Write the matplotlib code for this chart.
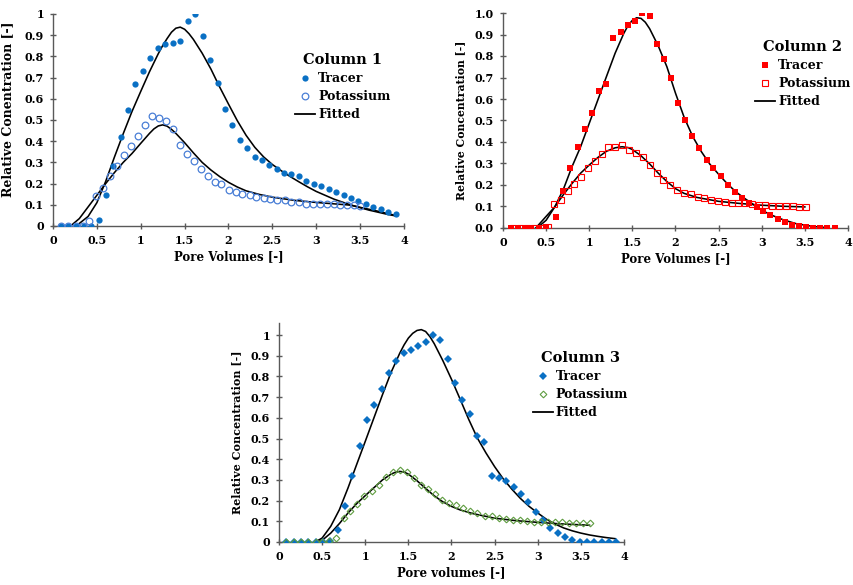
import matplotlib
matplotlib.use("Agg")
from matplotlib import pyplot as plt
from matplotlib.lines import Line2D

plt.rcParams["font.family"] = ["DejaVu Serif"]
plt.rcParams["font.weight"] = "bold"

# ---- Column 1 ----
c1_tracer_x = [0.087, 0.171, 0.258, 0.349, 0.437, 0.520, 0.604, 0.684, 0.771, 0.855,
               0.938, 1.026, 1.105, 1.193, 1.280, 1.364, 1.451, 1.535, 1.622, 1.706,
               1.789, 1.877, 1.960, 2.044, 2.127, 2.211, 2.298, 2.382, 2.465, 2.549,
               2.632, 2.716, 2.803, 2.887, 2.971, 3.058, 3.142, 3.225, 3.312, 3.396,
               3.480, 3.567, 3.651, 3.738, 3.821, 3.905]
c1_tracer_y = [0, 0, 0, 0, 0, 0.027, 0.145, 0.284, 0.418, 0.547,
               0.67, 0.733, 0.793, 0.841, 0.86, 0.863, 0.875, 0.968, 1.0, 0.894,
               0.781, 0.673, 0.554, 0.476, 0.404, 0.367, 0.326, 0.311, 0.289, 0.271,
               0.252, 0.243, 0.237, 0.213, 0.2, 0.189, 0.175, 0.159, 0.147, 0.132,
               0.12, 0.106, 0.091, 0.079, 0.068, 0.058]
c1_k_x = [0.087, 0.171, 0.258, 0.342, 0.406, 0.494, 0.574, 0.646, 0.730, 0.813,
          0.893, 0.965, 1.045, 1.128, 1.208, 1.288, 1.368, 1.444, 1.527, 1.607,
          1.690, 1.766, 1.842, 1.918, 2.006, 2.080, 2.157, 2.240, 2.317, 2.400,
          2.477, 2.553, 2.640, 2.716, 2.800, 2.880, 2.963, 3.040, 3.120, 3.199,
          3.275, 3.350, 3.427, 3.503]
c1_k_y = [0, 0, 0, 0, 0.024, 0.14, 0.181, 0.237, 0.284, 0.334,
          0.379, 0.424, 0.475, 0.519, 0.508, 0.495, 0.457, 0.383, 0.339, 0.308,
          0.271, 0.235, 0.208, 0.196, 0.169, 0.161, 0.153, 0.144, 0.137, 0.132,
          0.128, 0.125, 0.121, 0.115, 0.114, 0.106, 0.106, 0.104, 0.106, 0.103,
          0.101, 0.099, 0.099, 0.093]
c1_fit_tr_x = [0.25, 0.3, 0.4, 0.5, 0.6, 0.7, 0.8, 0.9, 1.0, 1.1, 1.2, 1.25, 1.3, 1.35,
               1.4, 1.45, 1.5, 1.55, 1.6, 1.7, 1.8, 1.9, 2.0, 2.1, 2.2, 2.3, 2.4, 2.5,
               2.6, 2.7, 2.8, 2.9, 3.0, 3.2, 3.4, 3.6, 3.8, 3.9]
c1_fit_tr_y = [0, 0.012, 0.045, 0.11, 0.21, 0.325, 0.435, 0.54, 0.635, 0.728, 0.813,
               0.851, 0.884, 0.914, 0.933, 0.938, 0.928, 0.907, 0.88, 0.815, 0.74,
               0.655, 0.575, 0.497, 0.428, 0.371, 0.326, 0.29, 0.261, 0.234, 0.209,
               0.185, 0.163, 0.127, 0.098, 0.075, 0.056, 0.048]
c1_fit_k_x = [0.2, 0.3, 0.4, 0.5, 0.6, 0.7, 0.8, 0.9, 1.0, 1.1, 1.15, 1.2, 1.25, 1.3,
              1.35, 1.4, 1.5, 1.6, 1.7, 1.8, 1.9, 2.0, 2.1, 2.2, 2.35, 2.5, 2.75, 3.0,
              3.25, 3.4, 3.5, 3.7, 3.9]
c1_fit_k_y = [0, 0.035, 0.09, 0.145, 0.2, 0.252, 0.3, 0.342, 0.39, 0.437, 0.458,
              0.472, 0.477, 0.471, 0.456, 0.437, 0.393, 0.345, 0.3, 0.264, 0.233,
              0.206, 0.184, 0.166, 0.149, 0.136, 0.121, 0.111, 0.103, 0.098, 0.088,
              0.07, 0.05]

# ---- Column 2 ----
c2_tracer_x = [0.09, 0.17, 0.25, 0.33, 0.42, 0.50, 0.61, 0.69, 0.78, 0.866,
               0.947, 1.03, 1.11, 1.19, 1.275, 1.364, 1.449, 1.53, 1.61, 1.70,
               1.78, 1.866, 1.948, 2.03, 2.115, 2.195, 2.276, 2.36, 2.44, 2.53,
               2.61, 2.69, 2.775, 2.857, 2.94, 3.02, 3.10, 3.185, 3.27, 3.35,
               3.43, 3.51, 3.598, 3.68, 3.76, 3.846]
c2_tracer_y = [0, 0, 0, 0, 0, 0.003, 0.051, 0.173, 0.28, 0.378,
               0.459, 0.537, 0.639, 0.672, 0.883, 0.91, 0.944, 0.963, 1.0, 0.988,
               0.857, 0.787, 0.70, 0.58, 0.501, 0.429, 0.373, 0.316, 0.277, 0.24,
               0.202, 0.168, 0.14, 0.118, 0.098, 0.078, 0.061, 0.044, 0.026, 0.014,
               0.008, 0.005, 0.002, 0.002, 0.002, 0.002]
c2_k_x = [0.12, 0.20, 0.28, 0.36, 0.44, 0.52, 0.587, 0.672, 0.75, 0.827,
          0.904, 0.989, 1.067, 1.144, 1.22, 1.30, 1.384, 1.465, 1.542, 1.623,
          1.70, 1.782, 1.86, 1.94, 2.018, 2.10, 2.175, 2.257, 2.334, 2.415,
          2.49, 2.57, 2.65, 2.728, 2.806, 2.887, 2.964, 3.04, 3.12, 3.20,
          3.277, 3.358, 3.436, 3.514]
c2_k_y = [0, 0, 0, 0, 0, 0.003, 0.11, 0.132, 0.173, 0.205,
          0.238, 0.277, 0.31, 0.344, 0.376, 0.376, 0.384, 0.362, 0.351, 0.328,
          0.295, 0.257, 0.222, 0.202, 0.179, 0.163, 0.156, 0.146, 0.138, 0.132,
          0.124, 0.12, 0.118, 0.115, 0.114, 0.112, 0.109, 0.107, 0.104, 0.103,
          0.101, 0.10, 0.098, 0.096]
c2_fit_tr_x = [0.38, 0.43, 0.5, 0.6, 0.7, 0.8, 0.9, 1.0, 1.1, 1.2, 1.3, 1.4, 1.45,
               1.5, 1.55, 1.6, 1.65, 1.7, 1.8, 1.9, 2.0, 2.1, 2.2, 2.3, 2.4, 2.5,
               2.6, 2.7, 2.8, 2.9, 3.0, 3.1, 3.25, 3.4, 3.6, 3.75]
c2_fit_tr_y = [0, 0.012, 0.036, 0.098, 0.18, 0.285, 0.378, 0.487, 0.596, 0.705,
               0.813, 0.905, 0.942, 0.966, 0.978, 0.975, 0.957, 0.927, 0.847, 0.75,
               0.627, 0.515, 0.425, 0.355, 0.296, 0.25, 0.206, 0.168, 0.138, 0.11,
               0.083, 0.062, 0.038, 0.02, 0.007, 0.002]
c2_fit_k_x = [0.38, 0.5, 0.6, 0.7, 0.8, 0.9, 1.0, 1.1, 1.2, 1.3, 1.38, 1.45, 1.5,
              1.6, 1.7, 1.8, 1.9, 2.0, 2.1, 2.25, 2.5, 2.75, 3.0, 3.25, 3.5]
c2_fit_k_y = [0, 0.054, 0.098, 0.155, 0.207, 0.255, 0.293, 0.328, 0.357, 0.373,
              0.378, 0.374, 0.365, 0.336, 0.298, 0.255, 0.216, 0.183, 0.161, 0.142,
              0.124, 0.114, 0.106, 0.101, 0.098]

# ---- Column 3 ----
c3_tracer_x = [0.085, 0.17, 0.255, 0.34, 0.425, 0.51, 0.595, 0.68, 0.765, 0.85,
               0.935, 1.02, 1.105, 1.19, 1.275, 1.36, 1.445, 1.53, 1.615, 1.70,
               1.785, 1.87, 1.955, 2.04, 2.126, 2.21, 2.296, 2.38, 2.466, 2.55,
               2.636, 2.72, 2.806, 2.89, 2.976, 3.06, 3.146, 3.23, 3.316, 3.40,
               3.486, 3.57, 3.656, 3.74, 3.826, 3.91]
c3_tracer_y = [0, 0, 0, 0, 0, 0, 0.003, 0.056, 0.175, 0.319,
               0.464, 0.589, 0.66, 0.739, 0.817, 0.873, 0.913, 0.929, 0.945, 0.968,
               1.0, 0.976, 0.884, 0.767, 0.687, 0.616, 0.514, 0.482, 0.318, 0.311,
               0.297, 0.265, 0.23, 0.193, 0.144, 0.108, 0.069, 0.042, 0.022, 0.008,
               0, 0, 0, 0, 0, 0]
c3_k_x = [0.085, 0.17, 0.255, 0.34, 0.425, 0.50, 0.585, 0.66, 0.75, 0.827,
          0.908, 0.99, 1.074, 1.156, 1.237, 1.318, 1.40, 1.484, 1.565, 1.646,
          1.727, 1.809, 1.89, 1.971, 2.056, 2.137, 2.218, 2.30, 2.384, 2.466,
          2.547, 2.628, 2.709, 2.794, 2.875, 2.957, 3.038, 3.119, 3.204, 3.285,
          3.366, 3.447, 3.528, 3.61]
c3_k_y = [0, 0, 0, 0, 0, 0, 0.005, 0.018, 0.114, 0.148,
          0.185, 0.222, 0.247, 0.273, 0.313, 0.34, 0.347, 0.337, 0.308, 0.276,
          0.257, 0.23, 0.202, 0.188, 0.177, 0.162, 0.151, 0.14, 0.128, 0.124,
          0.117, 0.112, 0.108, 0.104, 0.101, 0.098, 0.096, 0.096, 0.096, 0.095,
          0.093, 0.093, 0.091, 0.091]
c3_fit_tr_x = [0.42, 0.5, 0.6, 0.7, 0.8, 0.9, 1.0, 1.1, 1.2, 1.3, 1.4, 1.45, 1.5,
               1.55, 1.6, 1.65, 1.7, 1.75, 1.8, 1.9, 2.0, 2.1, 2.2, 2.3, 2.4, 2.5,
               2.6, 2.7, 2.8, 2.9, 3.0, 3.1, 3.2, 3.3, 3.4, 3.5, 3.6, 3.7, 3.8, 3.9]
c3_fit_tr_y = [0, 0.019, 0.076, 0.156, 0.261, 0.374, 0.486, 0.599, 0.712, 0.82,
               0.912, 0.952, 0.985, 1.008, 1.022, 1.026, 1.017, 0.992, 0.958, 0.876,
               0.786, 0.69, 0.592, 0.502, 0.43, 0.364, 0.305, 0.255, 0.21, 0.172,
               0.14, 0.11, 0.087, 0.068, 0.054, 0.043, 0.034, 0.027, 0.021, 0.016]
c3_fit_k_x = [0.45, 0.5, 0.6, 0.7, 0.8, 0.9, 1.0, 1.1, 1.2, 1.3, 1.35, 1.4, 1.45,
              1.5, 1.6, 1.7, 1.8, 1.9, 2.0, 2.1, 2.25, 2.5, 2.75, 3.0, 3.25, 3.5, 3.6]
c3_fit_k_y = [0, 0.008, 0.043, 0.089, 0.14, 0.185, 0.224, 0.262, 0.3, 0.328,
              0.337, 0.341, 0.338, 0.328, 0.296, 0.259, 0.223, 0.194, 0.172, 0.155,
              0.137, 0.115, 0.103, 0.095, 0.088, 0.083, 0.081]

x_ticks = [0, 0.5, 1, 1.5, 2, 2.5, 3, 3.5, 4]
x_tick_labels = ["0", "0.5", "1", "1.5", "2", "2.5", "3", "3.5", "4"]
y_ticks = [0, 0.1, 0.2, 0.3, 0.4, 0.5, 0.6, 0.7, 0.8, 0.9, 1.0]

AXIS_GREY = "#595959"
W, H = 854, 585
FIT_LW = 1.15


def setup_axes(fig, left, top, right, bottom, ymax, yfmt, xlabel, ylabel, ylab_size):
    ax = fig.add_axes([left / W, 1 - bottom / H, (right - left) / W, (bottom - top) / H])
    ax.set_xlim(0, 4)
    ax.set_ylim(0, ymax)
    for s in ["top", "right"]:
        ax.spines[s].set_visible(False)
    for s in ["left", "bottom"]:
        ax.spines[s].set_color(AXIS_GREY)
        ax.spines[s].set_linewidth(1.0)
    ax.set_xticks(x_ticks)
    ax.set_xticklabels(x_tick_labels)
    ax.set_yticks(y_ticks)
    ax.set_yticklabels([yfmt(v) for v in y_ticks])
    ax.tick_params(direction="inout", length=5, width=1, color=AXIS_GREY,
                   labelsize=8, pad=4)
    ax.set_xlabel(xlabel, fontsize=8.5, fontweight="bold", labelpad=3)
    ax.set_ylabel(ylabel, fontsize=ylab_size, fontweight="bold", labelpad=6)
    return ax


def add_legend(ax, title, tracer_handle, k_handle, anchor):
    fit_handle = Line2D([], [], color="black", lw=1.3)
    leg = ax.legend([tracer_handle, k_handle, fit_handle], ["Tracer", "Potassium", "Fitted"],
                    title=title, loc="upper left", bbox_to_anchor=anchor, frameon=False,
                    fontsize=9, handlelength=1.6, handletextpad=0.25, labelspacing=0.4,
                    borderpad=0, borderaxespad=0)
    leg.get_title().set_fontsize(10.5)
    leg.get_title().set_fontweight("bold")


fig = plt.figure(figsize=(W / 100, H / 100), dpi=100)

# Column 1
ax1 = setup_axes(fig, 53, 14, 404, 226, 1.0, lambda v: f"{v:g}",
                 "Pore Volumes [-]", "Relative Conentration [-]", 9)
ax1.yaxis.set_label_coords(-0.11, 0.55)
blue = "#0A70C4"
lblue = "#4A7FD6"
ax1.plot(c1_fit_tr_x, c1_fit_tr_y, color="black", lw=FIT_LW, zorder=2)
ax1.plot(c1_fit_k_x, c1_fit_k_y, color="black", lw=FIT_LW, zorder=2)
t1, = ax1.plot(c1_tracer_x, c1_tracer_y, "o", color=blue, ms=4.5, mew=0, zorder=3)
k1, = ax1.plot(c1_k_x, c1_k_y, "o", mfc="none", mec=lblue, ms=4.8, mew=0.9, zorder=3)
add_legend(ax1, "Column 1", t1, k1, (0.69, 0.815))

# Column 2
ax2 = setup_axes(fig, 503, 13, 848, 228, 1.0, lambda v: f"{v:.1f}",
                 "Pore Volumes [-]", "Relative Concentration [-]", 7.8)
red = "#FF0000"
ax2.plot(c2_fit_tr_x, c2_fit_tr_y, color="black", lw=FIT_LW, zorder=2)
ax2.plot(c2_fit_k_x, c2_fit_k_y, color="black", lw=FIT_LW, zorder=2)
t2, = ax2.plot(c2_tracer_x, c2_tracer_y, "s", color=red, ms=4.5, mew=0, zorder=3)
k2, = ax2.plot(c2_k_x, c2_k_y, "s", mfc="none", mec=red, ms=4.6, mew=0.8, zorder=3)
add_legend(ax2, "Column 2", t2, k2, (0.73, 0.875))

# Column 3
ax3 = setup_axes(fig, 279, 323, 624, 542, 1.058, lambda v: f"{v:g}",
                 "Pore volumes [-]", "Relative Concentration [-]", 8)
green = "#5E9C3F"
ax3.plot(c3_fit_tr_x, c3_fit_tr_y, color="black", lw=FIT_LW, zorder=2)
ax3.plot(c3_fit_k_x, c3_fit_k_y, color="black", lw=FIT_LW, zorder=2)
t3, = ax3.plot(c3_tracer_x, c3_tracer_y, "D", color=blue, ms=3.6, mew=0, zorder=3)
k3, = ax3.plot(c3_k_x, c3_k_y, "D", mfc="none", mec=green, ms=3.4, mew=0.8, zorder=3)
add_legend(ax3, "Column 3", t3, k3, (0.735, 0.87))

fig.savefig("out.png", dpi=100)
